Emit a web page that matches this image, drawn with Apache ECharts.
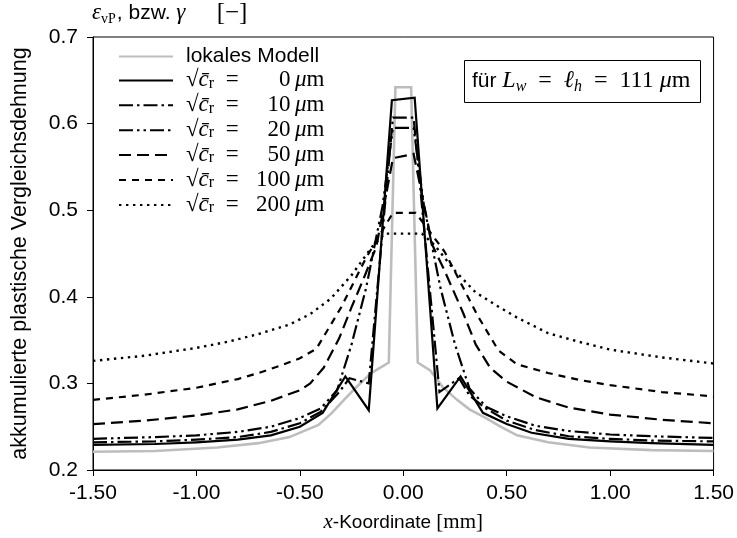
<!DOCTYPE html>
<html><head><meta charset="utf-8">
<script src="https://cdn.jsdelivr.net/npm/echarts@6/dist/echarts.min.js"></script>
<style>html,body{margin:0;padding:0;background:#fff}#c{width:737px;height:538px}</style>
</head><body><div id="c"></div>
<script>
// ---- data ----
const xTickMin = -1.5, xTickMax = 1.5, xTickStep = 0.5;
const yTickMin = 0.2, yTickMax = 0.7, yTickStep = 0.1;

const legendNums = ['0', '10', '20', '50', '100', '200'];

const xLocal = [-1.5,-1.2,-0.9,-0.7,-0.55,-0.47,-0.41,-0.345,-0.29,-0.23,-0.155,-0.07,-0.038,0.038,0.07,0.13,0.19,0.26,0.32,0.40,0.47,0.55,0.7,0.9,1.2,1.5];
const yLocal = [0.221,0.222,0.226,0.231,0.238,0.246,0.252,0.266,0.280,0.295,0.312,0.324,0.642,0.642,0.324,0.315,0.296,0.281,0.270,0.260,0.250,0.240,0.232,0.226,0.223,0.222];

const xC0 = [-1.5,-1.2,-1.0,-0.8,-0.64,-0.5,-0.39,-0.28,-0.167,-0.055,0.055,0.165,0.277,0.385,0.5,0.62,0.8,1.0,1.2,1.5];
const yC0 = [0.229,0.230,0.232,0.235,0.240,0.250,0.266,0.308,0.269,0.627,0.630,0.271,0.308,0.266,0.253,0.243,0.236,0.233,0.231,0.229];

const xC10 = [-1.5,-1.2,-1.0,-0.8,-0.64,-0.5,-0.4,-0.31,-0.26,-0.167,-0.05,0.05,0.175,0.27,0.32,0.4,0.5,0.64,0.8,1.0,1.2,1.5];
const yC10 = [0.232,0.233,0.235,0.238,0.244,0.254,0.267,0.290,0.306,0.300,0.607,0.607,0.290,0.306,0.286,0.271,0.257,0.246,0.239,0.236,0.234,0.233];

const xC20 = [-1.5,-1.2,-1.0,-0.8,-0.64,-0.5,-0.4,-0.32,-0.25,-0.18,-0.1,-0.05,0.05,0.1,0.18,0.25,0.32,0.4,0.5,0.64,0.8,1.0,1.2,1.5];
const yC20 = [0.236,0.238,0.240,0.244,0.250,0.260,0.271,0.292,0.345,0.410,0.505,0.595,0.595,0.505,0.410,0.345,0.294,0.273,0.262,0.251,0.245,0.241,0.239,0.237];

const xC50 = [-1.5,-1.25,-1.0,-0.8,-0.64,-0.5,-0.45,-0.385,-0.31,-0.25,-0.19,-0.13,-0.05,0.05,0.14,0.2,0.29,0.35,0.42,0.5,0.64,0.8,1.0,1.25,1.5];
const yC50 = [0.253,0.257,0.263,0.270,0.280,0.292,0.300,0.318,0.352,0.388,0.422,0.458,0.560,0.565,0.460,0.430,0.381,0.345,0.318,0.302,0.284,0.272,0.264,0.258,0.254];

const xC100 = [-1.5,-1.25,-1.0,-0.8,-0.7,-0.6,-0.5,-0.42,-0.3,-0.18,-0.05,0.06,0.2,0.36,0.46,0.55,0.7,0.85,1.0,1.25,1.5];
const yC100 = [0.281,0.287,0.295,0.305,0.312,0.320,0.329,0.340,0.388,0.445,0.497,0.497,0.452,0.378,0.338,0.322,0.312,0.304,0.298,0.290,0.285];

const xC200 = [-1.5,-1.25,-1.0,-0.85,-0.7,-0.55,-0.45,-0.35,-0.25,-0.15,-0.09,0.09,0.15,0.25,0.35,0.45,0.55,0.7,0.85,1.0,1.25,1.5];
const yC200 = [0.326,0.332,0.341,0.348,0.357,0.368,0.380,0.398,0.425,0.458,0.473,0.473,0.460,0.430,0.405,0.390,0.376,0.358,0.348,0.339,0.330,0.323];

// ---- chart ----
const pairs = (xs, ys) => xs.map((x, i) => [x, ys[i]]);
const SANS = 'Liberation Sans, Arial, sans-serif';
const SERIF = 'Liberation Serif, Times New Roman, serif';

const curveDefs = [
  { name: 'lokales Modell', xs: xLocal, ys: yLocal, color: '#bdbdbd', width: 2.6, type: 'solid' },
  { name: legendNums[0], xs: xC0, ys: yC0, color: '#000', width: 2.2, type: 'solid' },
  { name: legendNums[1], xs: xC10, ys: yC10, color: '#000', width: 2.2, type: [14, 4, 2.5, 4] },
  { name: legendNums[2], xs: xC20, ys: yC20, color: '#000', width: 2.2, type: [14, 4, 2.5, 4, 2.5, 4] },
  { name: legendNums[3], xs: xC50, ys: yC50, color: '#000', width: 2.2, type: [12, 6] },
  { name: legendNums[4], xs: xC100, ys: yC100, color: '#000', width: 2.2, type: [7, 6] },
  { name: legendNums[5], xs: xC200, ys: yC200, color: '#000', width: 2.4, type: [2.4, 4.6] }
];

const series = curveDefs.map((d, i) => ({
  name: d.name,
  type: 'line',
  data: pairs(d.xs, d.ys),
  symbol: 'none',
  showSymbol: false,
  animation: false,
  z: i === 0 ? 1 : 2,
  lineStyle: { color: d.color, width: d.width, type: d.type, cap: 'butt', join: 'miter' },
  itemStyle: { color: d.color }
}));

const chart = echarts.init(document.getElementById('c'), null, { renderer: 'canvas' });
chart.setOption({
  backgroundColor: '#fff',
  animation: false,
  grid: { left: 93, right: 22, top: 37, bottom: 68, show: true, borderColor: '#000', borderWidth: 1, backgroundColor: 'transparent' },
  xAxis: {
    type: 'value', min: xTickMin, max: xTickMax, interval: xTickStep,
    axisLine: { show: true, onZero: false, lineStyle: { color: '#000', width: 1 } },
    axisTick: { show: true, inside: false, length: 6, lineStyle: { color: '#000' } },
    splitLine: { show: false },
    axisLabel: { color: '#000', fontFamily: SANS, fontSize: 21, margin: 13, formatter: v => v.toFixed(2) },
    name: '{i|x}{s|-Koordinate }{m|[mm]}',
    nameLocation: 'middle', nameGap: 42,
    nameTextStyle: {
      rich: {
        i: { fontFamily: SERIF, fontStyle: 'italic', fontSize: 21, color: '#000' },
        s: { fontFamily: SANS, fontSize: 19, color: '#000' },
        m: { fontFamily: SERIF, fontSize: 21, color: '#000' }
      }
    }
  },
  yAxis: {
    type: 'value', min: yTickMin, max: yTickMax, interval: yTickStep,
    axisLine: { show: true, onZero: false, lineStyle: { color: '#000', width: 1 } },
    axisTick: { show: true, inside: false, length: 6, lineStyle: { color: '#000' } },
    splitLine: { show: false },
    axisLabel: { color: '#000', fontFamily: SANS, fontSize: 21, margin: 15, formatter: v => v.toFixed(1) },
    name: 'akkumulierte plastische Vergleichsdehnung',
    nameLocation: 'middle', nameGap: 62, nameRotate: 90,
    nameTextStyle: { color: '#000', fontFamily: SANS, fontSize: 21.5 }
  },
  title: [
    {
      text: '{e|ε}{sub|vP}{s|, bzw. }{e|γ}{m|     [−]}',
      left: 92, top: 0, padding: 0,
      textStyle: {
        fontWeight: 'normal',
        rich: {
          e: { fontFamily: SERIF, fontStyle: 'italic', fontWeight: 'normal', fontSize: 23, color: '#000', lineHeight: 26 },
          sub: { fontFamily: SERIF, fontWeight: 'normal', fontSize: 14, color: '#000', verticalAlign: 'bottom', lineHeight: 14, padding: [0, 1, 0, 0] },
          s: { fontFamily: SANS, fontWeight: 'normal', fontSize: 21, color: '#000', lineHeight: 26 },
          m: { fontFamily: SERIF, fontWeight: 'normal', fontSize: 25, color: '#000', lineHeight: 26 }
        }
      }
    },
    {
      text: '{s|für }{i|L}{sub|w}{m|  =  }{i|ℓ}{sub|h}{m|  =  111 }{i|μ}{m|m}',
      left: 464, top: 58, padding: [9, 10, 8, 8],
      borderColor: '#000', borderWidth: 1,
      textStyle: {
        fontWeight: 'normal',
        rich: {
          s: { fontFamily: SANS, fontWeight: 'normal', fontSize: 21, color: '#000', lineHeight: 28 },
          i: { fontFamily: SERIF, fontStyle: 'italic', fontWeight: 'normal', fontSize: 24, color: '#000', lineHeight: 28 },
          sub: { fontFamily: SERIF, fontStyle: 'italic', fontWeight: 'normal', fontSize: 16, color: '#000', verticalAlign: 'bottom', lineHeight: 16 },
          m: { fontFamily: SERIF, fontWeight: 'normal', fontSize: 24, color: '#000', lineHeight: 28 }
        }
      }
    }
  ],
  legend: {
    orient: 'vertical', left: 118, top: 46, padding: 0,
    itemWidth: 54, itemHeight: 14, itemGap: 1.9,
    selectedMode: false,
    itemStyle: { opacity: 0 },
    data: curveDefs.map(d => d.name),
    formatter: function (name) {
      if (name === 'lokales Modell') return '{sp|}{t|lokales Modell}';
      let pad = name;
      while (pad.length < 3) pad = '\u2007' + pad;
      return '{sp|}{m|√}{ci|c̄}{sub|r}{m|  =   }{m|' + pad + '}{m|\u2009}{mi|μ}{m|m}';
    },
    textStyle: {
      rich: {
        sp: { width: 8, lineHeight: 22 },
        t: { fontFamily: SANS, fontSize: 21, color: '#000', lineHeight: 22 },
        m: { fontFamily: SERIF, fontSize: 23, color: '#000', lineHeight: 22 },
        ci: { fontFamily: SERIF, fontStyle: 'italic', fontSize: 23, color: '#000', lineHeight: 22 },
        sub: { fontFamily: SERIF, fontSize: 16, color: '#000', verticalAlign: 'bottom', lineHeight: 16 },
        mi: { fontFamily: SERIF, fontStyle: 'italic', fontSize: 23, color: '#000', lineHeight: 22 }
      }
    }
  },
  series: series
});
</script>
</body></html>
